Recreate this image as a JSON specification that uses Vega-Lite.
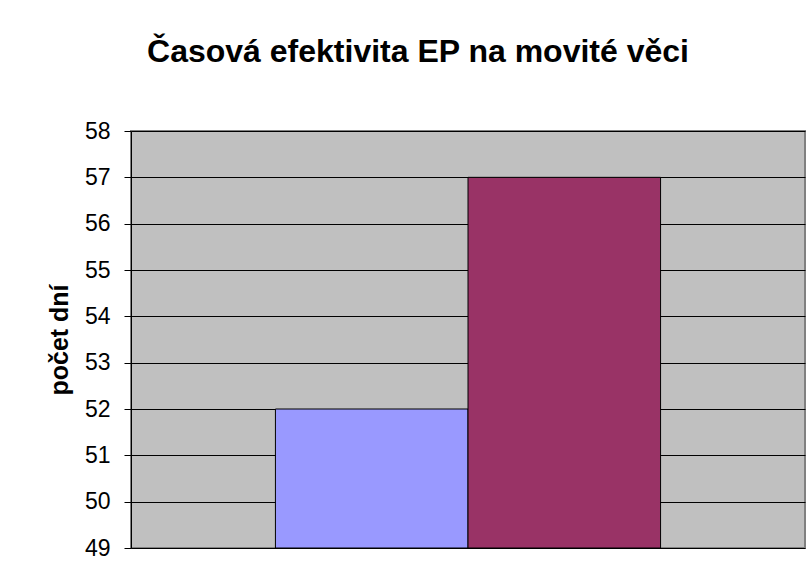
{
  "$schema": "https://vega.github.io/schema/vega-lite/v6.json",
  "autosize": {"type": "none"},
  "width": 674,
  "height": 417,
  "padding": {"left": 131, "top": 131, "right": 5, "bottom": 32},
  "background": "white",
  "title": {
    "text": "Časová efektivita EP na movité věci",
    "font": "Liberation Sans",
    "fontSize": 32,
    "fontWeight": "bold",
    "color": "black",
    "anchor": "middle",
    "baseline": "alphabetic",
    "dx": -50,
    "offset": 26
  },
  "data": {
    "values": [
      {"series": "Řada 1", "value": 52},
      {"series": "Řada 2", "value": 57}
    ]
  },
  "mark": {"type": "bar", "stroke": "black", "strokeWidth": 1},
  "encoding": {
    "x": {
      "field": "series",
      "type": "nominal",
      "scale": {"paddingInner": 0, "paddingOuter": 0.75},
      "axis": null
    },
    "y": {
      "field": "value",
      "type": "quantitative",
      "scale": {"domain": [49, 58], "zero": false, "nice": false},
      "axis": {
        "values": [49, 50, 51, 52, 53, 54, 55, 56, 57, 58],
        "title": "počet dní",
        "titleFont": "Liberation Sans",
        "titleFontSize": 25,
        "titleFontWeight": "bold",
        "titleColor": "black",
        "titlePadding": 12,
        "labelFont": "Liberation Sans",
        "labelFontSize": 23,
        "labelColor": "black",
        "labelPadding": 14,
        "tickSize": 7,
        "tickColor": "black",
        "domainColor": "black",
        "grid": true,
        "gridColor": "black",
        "gridOpacity": 1
      }
    },
    "y2": {"datum": 49},
    "color": {
      "field": "series",
      "type": "nominal",
      "scale": {"range": ["#9999FF", "#993366"]},
      "legend": null
    }
  },
  "config": {
    "view": {"fill": "#C0C0C0", "stroke": "#808080", "strokeWidth": 2}
  }
}
